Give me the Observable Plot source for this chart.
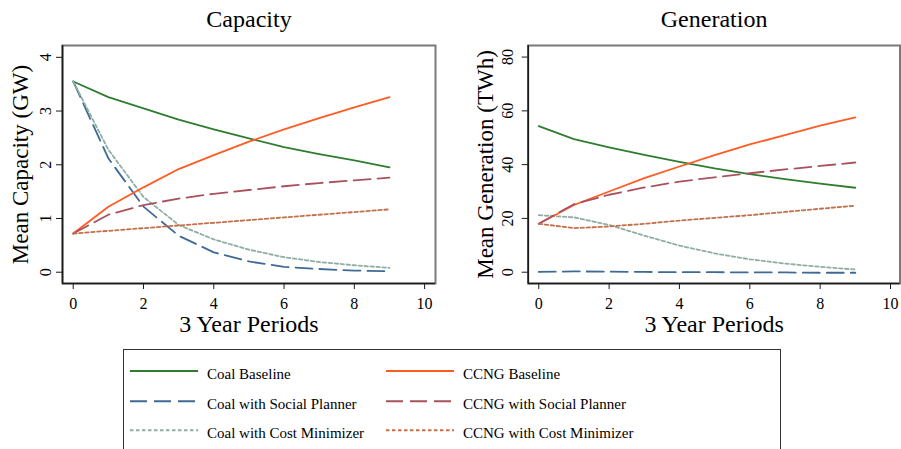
<!DOCTYPE html>
<html>
<head>
<meta charset="utf-8">
<script src="https://cdn.jsdelivr.net/npm/d3@7"></script>
<script src="https://cdn.jsdelivr.net/npm/@observablehq/plot@0.6"></script>
<style>
  html, body { margin: 0; padding: 0; background: #fff; }
  #fig { position: relative; width: 901px; height: 449px; overflow: hidden; background: #fff;
         font-family: "Liberation Serif", "Times New Roman", serif; }
  #fig .panel { position: absolute; top: 0; }
  #fig svg text { font-family: "Liberation Serif", "Times New Roman", serif; }
  #legend { position: absolute; left: 123px; top: 349px; width: 658px; height: 120px;
            border: 1.5px solid #333; box-sizing: border-box; }
</style>
</head>
<body>
<div id="fig">
  <div class="panel" id="cap" style="left:0px"></div>
  <div class="panel" id="gen" style="left:450px"></div>
  <div id="legend"></div>
</div>
<script>
// Model periods (each period = 3 years)
const periods = [0, 1, 2, 3, 4, 5, 6, 7, 8, 9];
const xTicks = [0, 2, 4, 6, 8, 10];

// Mean capacity (GW)
const capCoalBaseline   = [3.55, 3.26, 3.05, 2.84, 2.66, 2.49, 2.33, 2.20, 2.08, 1.95];
const capCoalPlanner    = [3.55, 2.12, 1.22, 0.68, 0.37, 0.20, 0.10, 0.06, 0.03, 0.02];
const capCoalMinimizer  = [3.55, 2.28, 1.40, 0.88, 0.61, 0.42, 0.28, 0.19, 0.13, 0.08];
const capCcngBaseline   = [0.72, 1.22, 1.58, 1.92, 2.18, 2.43, 2.66, 2.87, 3.07, 3.26];
const capCcngPlanner    = [0.72, 1.07, 1.25, 1.37, 1.46, 1.53, 1.60, 1.66, 1.71, 1.76];
const capCcngMinimizer  = [0.72, 0.77, 0.82, 0.87, 0.92, 0.97, 1.02, 1.07, 1.12, 1.17];
const capTicks = [0, 1, 2, 3, 4];

// Mean generation (TWh)
const genCoalBaseline   = [54.3, 49.5, 46.4, 43.6, 41.0, 38.6, 36.5, 34.6, 32.9, 31.4];
const genCoalPlanner    = [0.1, 0.3, 0.2, 0.1, 0.0, 0.0, -0.1, -0.1, -0.2, -0.2];
const genCoalMinimizer  = [21.2, 20.4, 17.6, 13.6, 9.9, 7.0, 4.8, 3.2, 2.0, 1.0];
const genCcngBaseline   = [18.0, 25.0, 30.0, 35.0, 39.3, 43.5, 47.5, 51.0, 54.5, 57.6];
const genCcngPlanner    = [18.0, 25.3, 28.8, 31.5, 33.7, 35.3, 36.8, 38.2, 39.5, 40.8];
const genCcngMinimizer  = [18.0, 16.4, 17.0, 18.0, 19.2, 20.2, 21.2, 22.4, 23.6, 24.7];
const genTicks = [0, 20, 40, 60, 80];

// Series styling (legend order: coal column, then CCNG column)
const seriesNames = [
  "Coal Baseline", "Coal with Social Planner", "Coal with Cost Minimizer",
  "CCNG Baseline", "CCNG with Social Planner", "CCNG with Cost Minimizer"
];
const seriesColors = ["#2f7d2f", "#3f6a95", "#8fae9f", "#ff5b22", "#a9525e", "#c2704c"];
const seriesDashes = [null, "17,7", "3.5,2.5", null, "17,7", "3.5,2.5"];

const serif = '"Liberation Serif", "Times New Roman", serif';

function panel({values, yDomain, xDomain, yTicks, title, yTitle, width, marginLeft, marginRight,
                tickLabelDx, yTitleDx}) {
  const lines = values.map((vals, i) =>
    Plot.line(periods.map((p, j) => ({period: p, value: vals[j]})), {
      x: "period", y: "value",
      stroke: seriesColors[i], strokeWidth: 1.8,
      strokeDasharray: seriesDashes[i] ?? undefined,
      strokeLinejoin: "round"
    })
  );
  const label = {fill: "black", fontFamily: serif, textAnchor: "middle", lineAnchor: "middle"};
  return Plot.plot({
    width, height: 340,
    marginTop: 45, marginBottom: 57, marginLeft, marginRight,
    x: {domain: xDomain},
    y: {domain: yDomain},
    style: {fontFamily: serif, color: "black", background: "transparent", overflow: "visible"},
    marks: [
      Plot.frame({stroke: "#7a7a7a", strokeWidth: 2}),
      Plot.ruleX([xDomain[0]], {stroke: "#1a1a1a", strokeWidth: 1.6}),
      Plot.ruleY([yDomain[0]], {stroke: "#1a1a1a", strokeWidth: 1.6}),
      Plot.axisX({ticks: xTicks, tickSize: 6, tickPadding: 8.5, fontSize: 16, label: null,
                  stroke: "#1a1a1a", fontFamily: serif, fill: "black"}),
      Plot.axisY({ticks: yTicks, tickSize: 6, tickFormat: () => "", label: null, stroke: "#1a1a1a"}),
      Plot.text(yTicks, {...label, y: d => d, text: d => String(d), frameAnchor: "left",
                         dx: tickLabelDx, rotate: -90, fontSize: 16}),
      ...lines,
      Plot.text([title], {...label, text: d => d, frameAnchor: "top", dy: -26.5, fontSize: 24}),
      Plot.text(["3 Year Periods"], {...label, text: d => d, frameAnchor: "bottom", dy: 41, fontSize: 24}),
      Plot.text([yTitle], {...label, text: d => d, frameAnchor: "left", dx: yTitleDx, rotate: -90,
                           fontSize: 23})
    ]
  });
}

document.getElementById("cap").append(panel({
  values: [capCoalBaseline, capCoalPlanner, capCoalMinimizer, capCcngBaseline, capCcngPlanner, capCcngMinimizer],
  xDomain: [-0.305, 10.31], yDomain: [-0.21, 4.22], yTicks: capTicks,
  title: "Capacity", yTitle: "Mean Capacity (GW)",
  width: 450, marginLeft: 62, marginRight: 15, tickLabelDx: -16.6, yTitleDx: -41.4
}));

document.getElementById("gen").append(panel({
  values: [genCoalBaseline, genCoalPlanner, genCoalMinimizer, genCcngBaseline, genCcngPlanner, genCcngMinimizer],
  xDomain: [-0.3, 10.27], yDomain: [-4.2, 84.3], yTicks: genTicks,
  title: "Generation", yTitle: "Mean Generation (TWh)",
  width: 451, marginLeft: 77.7, marginRight: 1.5, tickLabelDx: -20.2, yTitleDx: -42.1
}));

// Legend: two columns of three entries
const legend = d3.select("#legend").append("svg")
  .attr("width", 658).attr("height", 120)
  .style("position", "absolute").style("left", "-1.5px").style("top", "-1.5px")
  .style("font-family", serif);
const rowY = [22, 52.3, 81.3];
const colX = [7, 263];
seriesNames.forEach((name, i) => {
  const col = Math.floor(i / 3), row = i % 3;
  const g = legend.append("g").attr("transform", `translate(${colX[col]},${rowY[row]})`);
  g.append("line").attr("x1", 0).attr("x2", 68).attr("y1", 0).attr("y2", 0)
    .attr("stroke", seriesColors[i]).attr("stroke-width", 2)
    .attr("stroke-dasharray", seriesDashes[i] ?? null);
  g.append("text").attr("x", 77).attr("y", 7.6).attr("font-size", 15).attr("fill", "black").text(name);
});
</script>
</body>
</html>
